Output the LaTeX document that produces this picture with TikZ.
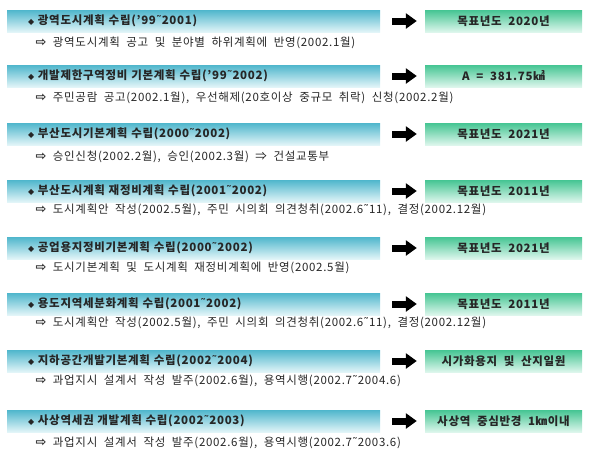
\documentclass[tikz,border=0pt]{standalone}
\usepackage{fontspec}
\usepackage{tikz}
\usetikzlibrary{arrows.meta}
\setmainfont[WordSpace=2,LetterSpace=6]{Noto Sans CJK KR}
\newfontfamily\symfont{DejaVu Sans}
\newcommand{\dia}{{\symfont\footnotesize ◆}}
\newcommand{\rarr}{{\symfont\bfseries\fontsize{13}{13}\selectfont ⇨}}
\newcommand{\til}{{\symfont ˜}}
\definecolor{barTop}{HTML}{4FB6CC}
\definecolor{barBot}{HTML}{E2F5F8}
\definecolor{goalTop}{HTML}{45C593}
\definecolor{goalBot}{HTML}{DDF6EC}

\begin{document}
\begin{tikzpicture}[x=1pt,y=-1pt]
        \tikzstyle{every node}=[font=\fontsize{11.5}{13}\selectfont,text=black!85]
        \tikzstyle{bar}=[minimum height=22pt,text width=331pt,inner xsep=21pt,align=left,top color=barTop,bottom color=barBot,font=\fontsize{11.5}{13}\selectfont\bfseries]
        \tikzstyle{goal}=[minimum height=22pt,minimum width=157pt,top color=goalTop,bottom color=goalBot,font=\fontsize{11.5}{13}\selectfont\bfseries]
        \tikzstyle{sub}=[anchor=west]
        \tikzstyle{bigarrow}=[line width=7pt,-{Triangle[length=11pt,width=15pt]},shorten <=12pt,shorten >=8pt]
            \useasboundingbox (0,0) rectangle (600,451);

            \node[bar] (b1) at (193.5,21) {\dia\ 광역도시계획 수립('99\til2001)};
            \node[bar] (b2) at (193.5,76) {\dia\ 개발제한구역정비 기본계획 수립('99\til2002)};
            \node[bar] (b3) at (193.5,134) {\dia\ 부산도시기본계획 수립(2000\til2002)};
            \node[bar] (b4) at (193.5,191) {\dia\ 부산도시계획 재정비계획 수립(2001\til2002)};
            \node[bar] (b5) at (193.5,248) {\dia\ 공업용지정비기본계획 수립(2000\til2002)};
            \node[bar] (b6) at (193.5,304) {\dia\ 용도지역세분화계획 수립(2001\til2002)};
            \node[bar] (b7) at (193.5,361) {\dia\ 지하공간개발기본계획 수립(2002\til2004)};
            \node[bar] (b8) at (193.5,421) {\dia\ 사상역세권 개발계획 수립(2002\til2003)};

            \node[sub] (s1) at (32,43) {\rarr\ 광역도시계획 공고 및 분야별 하위계획에 반영(2002.1월)};
            \node[sub] (s2) at (32,98) {\rarr\ 주민공람 공고(2002.1월), 우선해제(20호이상 중규모 취락) 신청(2002.2월)};
            \node[sub] (s3) at (32,157) {\rarr\ 승인신청(2002.2월), 승인(2002.3월) ⇒ 건설교통부};
            \node[sub] (s4) at (32,210) {\rarr\ 도시계획안 작성(2002.5월), 주민 시의회 의견청취(2002.6\til11), 결정(2002.12월)};
            \node[sub] (s5) at (32,268) {\rarr\ 도시기본계획 및 도시계획 재정비계획에 반영(2002.5월)};
            \node[sub] (s6) at (32,323) {\rarr\ 도시계획안 작성(2002.5월), 주민 시의회 의견청취(2002.6\til11), 결정(2002.12월)};
            \node[sub] (s7) at (32,381) {\rarr\ 과업지시 설계서 작성 발주(2002.6월), 용역시행(2002.7\til2004.6)};
            \node[sub] (s8) at (32,443) {\rarr\ 과업지시 설계서 작성 발주(2002.6월), 용역시행(2002.7\til2003.6)};

            \node[goal] (g1) at (503.5,21) {목표년도 2020년};
            \node[goal] (g2) at (503.5,76) {A = 381.75㎢};
            \node[goal] (g3) at (503.5,134) {목표년도 2021년};
            \node[goal] (g4) at (503.5,191) {목표년도 2011년};
            \node[goal] (g5) at (503.5,248) {목표년도 2021년};
            \node[goal] (g6) at (503.5,304) {목표년도 2011년};
            \node[goal] (g7) at (503.5,361) {시가화용지 및 산지일원};
            \node[goal] (g8) at (503.5,421) {사상역 중심반경 1㎞이내};

            \draw[bigarrow] (b1) -- (g1);
            \draw[bigarrow] (b2) -- (g2);
            \draw[bigarrow] (b3) -- (g3);
            \draw[bigarrow] (b4) -- (g4);
            \draw[bigarrow] (b5) -- (g5);
            \draw[bigarrow] (b6) -- (g6);
            \draw[bigarrow] (b7) -- (g7);
            \draw[bigarrow] (b8) -- (g8);
        \end{tikzpicture}
\end{document}
